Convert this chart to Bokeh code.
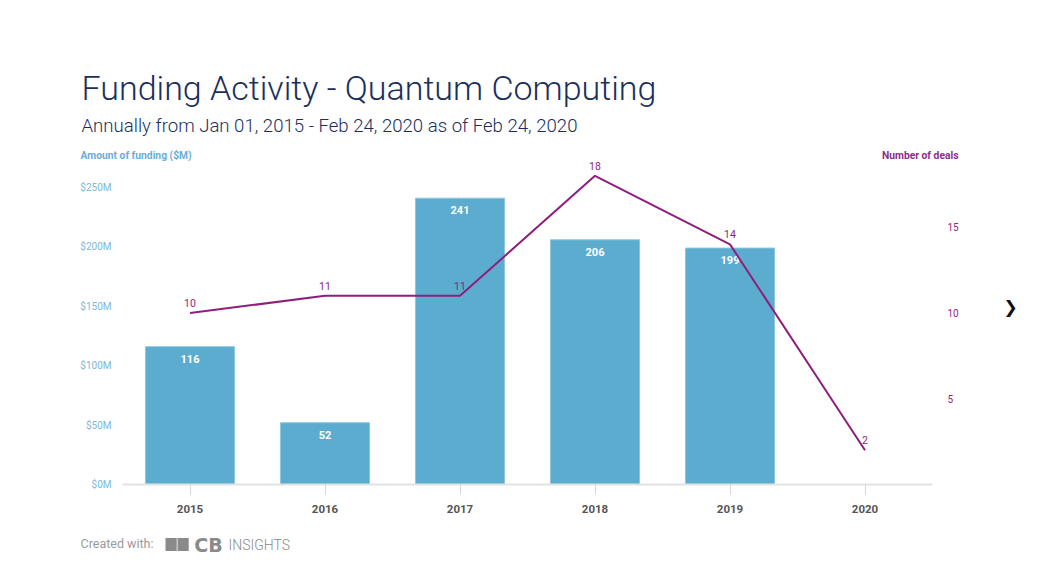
from bokeh.plotting import figure
from bokeh.layouts import column, row
from bokeh.models import ColumnDataSource, Range1d, LinearAxis, FixedTicker, PrintfTickFormatter, Label
from bokeh.core.properties import value
from bokeh.embed import file_html
from bokeh.resources import INLINE

years = ["2015", "2016", "2017", "2018", "2019", "2020"]
funding = [116, 52, 241, 206, 199, 0]
deals = [10, 11, 11, 18, 14, 2]
left_ticks = [0, 50, 100, 150, 200, 250]
right_ticks = [5, 10, 15]

BAR = "#5BACCF"
LINE = "#8E1F7E"
NAVY = "#1B2F5E"
BLUE_T = "#6AAED6"
PURP_T = "#8B2C8B"
LOGO = "#8A8A8A"

HEAD_H = 161


def blank(w, h, x0, x1, y0, y1):
    f = figure(width=w, height=h, x_range=Range1d(x0, x1), y_range=Range1d(y1, y0),
               x_axis_type=None, y_axis_type=None, output_backend="svg", toolbar_location=None,
               min_border_left=0, min_border_right=0, min_border_top=0, min_border_bottom=0)
    f.outline_line_color = None
    return f


def lab(f, text, x, y, size, color, style="normal", font="Roboto", align="left", baseline="middle", **kw):
    f.add_layout(Label(x=x, y=y, text=text, text_font=font, text_font_size=size, text_color=color,
                       text_font_style=style, text_align=align, text_baseline=baseline, **kw))


# ---------- header (page coords) ----------
head = blank(1031, HEAD_H, 0, 1031, 0, HEAD_H)
lab(head, "Funding Activity - Quantum Computing", 81, 87.5, "34px", NAVY, font="Roboto Light")
lab(head, "Annually from Jan 01, 2015 - Feb 24, 2020 as of Feb 24, 2020", 81, 125.5, "18.6px", NAVY,
    font="Roboto Light")
lab(head, "Amount of funding ($M)", 80, 154.5, "10.3px", BLUE_T, style="bold")
lab(head, "Number of deals", 958, 154.5, "10.3px", PURP_T, style="bold", align="right")

# ---------- main chart ----------
MAIN_H = 525 - HEAD_H
frame_h = 484 - HEAD_H
p = figure(x_range=years, y_range=Range1d(0, frame_h / 1.188), width=970, height=MAIN_H,
           output_backend="svg", toolbar_location=None,
           min_border_left=122, min_border_right=38, min_border_top=0, min_border_bottom=41)
p.outline_line_color = None
p.xgrid.grid_line_color = None
p.ygrid.grid_line_color = None
p.extra_y_ranges = {"deals": Range1d(0, frame_h / 17.15)}

bar_src = ColumnDataSource(dict(x=[y for y, f in zip(years, funding) if f > 0],
                                top=[f for f in funding if f > 0],
                                txt=[str(f) for f in funding if f > 0]))
p.vbar(x="x", top="top", width=0.66, source=bar_src, fill_color=BAR, line_color="#8CC6E0", line_width=1)
p.text(x="x", y="top", text="txt", source=bar_src, text_color="white", text_font=value("Roboto"),
       text_font_style="bold", text_font_size="11px", text_align="center", text_baseline="top", y_offset=8)

line_src = ColumnDataSource(dict(x=years, y=deals, txt=[str(d) for d in deals]))
p.line(x="x", y="y", source=line_src, line_color=LINE, line_width=2, y_range_name="deals")
p.text(x="x", y="y", text="txt", source=line_src, y_range_name="deals", text_color=LINE,
       text_font=value("Roboto"), text_font_size="10.5px", text_align="center",
       text_baseline="bottom", y_offset=-6)

ax = p.yaxis[0]
ax.ticker = FixedTicker(ticks=left_ticks)
ax.formatter = PrintfTickFormatter(format="$%dM")
ax.axis_line_color = None
ax.major_tick_line_color = None
ax.minor_tick_line_color = None
ax.major_label_text_color = "#7DB8D8"
ax.major_label_text_font = "Roboto"
ax.major_label_text_font_size = "10px"
ax.major_label_standoff = 5

rax = LinearAxis(y_range_name="deals", ticker=FixedTicker(ticks=right_ticks))
rax.axis_line_color = None
rax.major_tick_line_color = None
rax.minor_tick_line_color = None
rax.major_label_text_color = LINE
rax.major_label_text_font = "Roboto"
rax.major_label_text_font_size = "10px"
rax.major_label_standoff = 9
p.add_layout(rax, "right")

xa = p.xaxis[0]
xa.axis_line_color = "#E2E2E2"
xa.axis_line_width = 2
xa.major_tick_line_color = "#D5D5D5"
xa.major_tick_in = 0
xa.major_tick_out = 10
xa.minor_tick_line_color = None
xa.major_label_text_color = "#555555"
xa.major_label_text_font = "Roboto"
xa.major_label_text_font_style = "bold"
xa.major_label_text_font_size = "11.5px"
xa.major_label_standoff = 10

# ---------- side (chevron) ----------
side = blank(61, MAIN_H, 970, 1031, HEAD_H, 525)
lab(side, "\u276F", 1010, 325, "17px", "#111111", font="DejaVu Sans", align="center")

# ---------- footer ----------
foot = blank(1031, 34, 0, 1031, 525, 559)
lab(foot, "Created with:", 80, 543, "12.5px", "#9A9A9A")
lab(foot, "\u2003", 165, 544, "11px", LOGO, background_fill_color=LOGO)
lab(foot, "\u2003", 177, 544, "11px", LOGO, background_fill_color=LOGO)
lab(foot, "CB", 208, 544, "19px", LOGO, style="bold", font="DejaVu Sans", align="center")
lab(foot, "INSIGHTS", 228, 544, "14px", LOGO, font="Roboto Light")

layout = column(head, row(p, side), foot)
open("out.html", "w").write(file_html(layout, INLINE))
